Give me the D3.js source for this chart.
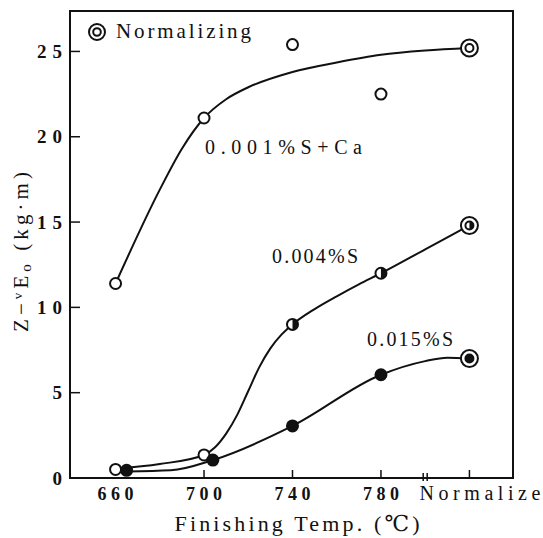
<!DOCTYPE html>
<html>
<head>
<meta charset="utf-8">
<script src="https://cdn.jsdelivr.net/npm/d3@7"></script>
<style>
  body { margin: 0; background: #fff; }
  svg { display: block; }
  text { font-family: "Liberation Serif", "DejaVu Serif", serif; fill: #111; }
</style>
</head>
<body>
<svg id="chart"></svg>
<script>
const width = 543;
const height = 538;

// x categories (820 stands for "Normalize")
const xTicks = [660, 700, 740, 780, 820];
const xTickLabels = ["660", "700", "740", "780", "Normalize"];
const yTicks = [0, 5, 10, 15, 20, 25];

// 0.001%S+Ca (open circles)
const caX = [660, 700, 740, 780, 820];
const caY = [11.4, 21.1, 25.4, 22.5, 25.2];
const caCurveX = [660, 680, 690, 700, 710, 720, 740, 760, 780, 800, 820];
const caCurveY = [11.4, 16.9, 19.3, 21.1, 22.2, 22.9, 23.8, 24.35, 24.8, 25.05, 25.2];

// 0.004%S (half filled circles)
const s004X = [660, 700, 740, 780, 820];
const s004Y = [0.5, 1.35, 9.0, 12.0, 14.8];
const s004Half = [false, false, true, true, true];
const s004CurveX = [660, 680, 700, 705, 710, 715, 720, 725, 730, 735, 740, 750, 760, 770, 780, 800, 820];
const s004CurveY = [0.55, 0.82, 1.35, 1.8, 2.6, 3.7, 5.1, 6.5, 7.6, 8.4, 9.0, 9.9, 10.65, 11.35, 12.0, 13.4, 14.8];

// 0.015%S (filled circles)
const s015X = [665, 704, 740, 780, 820];
const s015Y = [0.45, 1.05, 3.05, 6.05, 7.0];
const s015CurveX = [665, 685, 704, 740, 780, 800, 810, 820];
const s015CurveY = [0.38, 0.45, 1.05, 3.05, 6.05, 6.85, 7.05, 7.0];

const svg = d3.select("#chart")
    .attr("width", width)
    .attr("height", height);

const x = d3.scaleLinear().domain([639.4, 839.7]).range([70, 513]);
const y = d3.scaleLinear().domain([0, 27.37]).range([478, 11]);

const line = d3.line()
    .x(d => x(d[0]))
    .y(d => y(d[1]))
    .curve(d3.curveMonotoneX);

// frame
svg.append("rect")
    .attr("x", x.range()[0]).attr("y", y.range()[1])
    .attr("width", x.range()[1] - x.range()[0])
    .attr("height", y.range()[0] - y.range()[1])
    .attr("fill", "none").attr("stroke", "#111").attr("stroke-width", 2);

// y ticks (inward) and labels
svg.append("g").selectAll("line").data(yTicks.filter(d => d > 0)).enter().append("line")
    .attr("x1", x.range()[0]).attr("x2", x.range()[0] + 10)
    .attr("y1", d => y(d)).attr("y2", d => y(d))
    .attr("stroke", "#111").attr("stroke-width", 1.5);

svg.append("g").selectAll("text").data(yTicks).enter().append("text")
    .attr("x", 62).attr("y", d => y(d) + 6.5)
    .attr("text-anchor", "end")
    .attr("font-size", 19).attr("font-weight", "bold")
    .attr("textLength", d => String(d).length > 1 ? 25 : null)
    .attr("lengthAdjust", "spacing")
    .text(d => d);

// x ticks (inward) and labels
svg.append("g").selectAll("line").data(xTicks.slice(1)).enter().append("line")
    .attr("x1", d => x(d)).attr("x2", d => x(d))
    .attr("y1", y(0)).attr("y2", y(0) - 8)
    .attr("stroke", "#111").attr("stroke-width", 1.5);

// axis break near Normalize
[-2, 2].forEach(o => {
  svg.append("line")
    .attr("x1", x(800) + o).attr("x2", x(800) + o)
    .attr("y1", y(0) - 5).attr("y2", y(0) + 3)
    .attr("stroke", "#111").attr("stroke-width", 1.5);
});

svg.append("g").selectAll("text").data(xTicks).enter().append("text")
    .attr("x", (d, i) => i === 4 ? x(d) - 50 : x(d))
    .attr("y", 500)
    .attr("text-anchor", (d, i) => i === 4 ? "start" : "middle")
    .attr("font-size", (d, i) => i === 4 ? 20 : 18)
    .attr("font-weight", (d, i) => i === 4 ? "normal" : "bold")
    .attr("textLength", (d, i) => i === 4 ? 121 : 36)
    .attr("lengthAdjust", "spacing")
    .text((d, i) => xTickLabels[i]);

// axis titles
svg.append("text")
    .attr("x", 297).attr("y", 531)
    .attr("text-anchor", "middle")
    .attr("font-size", 22)
    .attr("textLength", 245).attr("lengthAdjust", "spacing")
    .text("Finishing Temp. (℃)");

const yt = svg.append("text")
    .attr("transform", "translate(28,252) rotate(-90)")
    .attr("text-anchor", "middle")
    .attr("font-size", 21)
    .attr("textLength", 160).attr("lengthAdjust", "spacing");
yt.append("tspan").text("Z−");
yt.append("tspan").attr("font-size", 13).attr("dy", -6).text("v");
yt.append("tspan").attr("dy", 6).text("E");
yt.append("tspan").attr("font-size", 15).attr("dy", 3).text("o");
yt.append("tspan").attr("dy", -3).text(" (kg·m)");

// curves
const curves = [
  d3.zip(caCurveX, caCurveY),
  d3.zip(s004CurveX, s004CurveY),
  d3.zip(s015CurveX, s015CurveY)
];
svg.append("g").selectAll("path").data(curves).enter().append("path")
    .attr("d", line)
    .attr("fill", "none").attr("stroke", "#111").attr("stroke-width", 2);

// markers
const r = 5.5;
function halfPath(cx, cy, rr) {
  return `M${cx},${cy - rr} A${rr},${rr} 0 0 1 ${cx},${cy + rr} Z`;
}
function drawMarker(g, cx, cy, kind, rr) {
  if (kind === "filled") {
    g.append("circle").attr("cx", cx).attr("cy", cy).attr("r", rr)
      .attr("fill", "#111").attr("stroke", "#111").attr("stroke-width", 2);
  } else {
    g.append("circle").attr("cx", cx).attr("cy", cy).attr("r", rr)
      .attr("fill", "#fff").attr("stroke", "#111").attr("stroke-width", 2);
    if (kind === "half") g.append("path").attr("d", halfPath(cx, cy, rr)).attr("fill", "#111");
  }
}
function drawPoint(g, xv, yv, kind) {
  const cx = x(xv), cy = y(yv);
  if (xv === 820) {
    g.append("circle").attr("cx", cx).attr("cy", cy).attr("r", 8.5)
      .attr("fill", "#fff").attr("stroke", "#111").attr("stroke-width", 2);
    drawMarker(g, cx, cy, kind, 4);
  } else {
    drawMarker(g, cx, cy, kind, r);
  }
}

const pts = svg.append("g");
caX.forEach((v, i) => drawPoint(pts, v, caY[i], "open"));
s004X.forEach((v, i) => drawPoint(pts, v, s004Y[i], s004Half[i] ? "half" : "open"));
s015X.forEach((v, i) => drawPoint(pts, v, s015Y[i], "filled"));

// curve labels
const labels = svg.append("g").attr("font-size", 20);
labels.append("text").attr("x", 205).attr("y", 154)
    .attr("textLength", 157).attr("lengthAdjust", "spacing").text("0.001%S+Ca");
labels.append("text").attr("x", 272).attr("y", 263)
    .attr("textLength", 86).attr("lengthAdjust", "spacing").text("0.004%S");
labels.append("text").attr("x", 367).attr("y", 346)
    .attr("textLength", 86).attr("lengthAdjust", "spacing").text("0.015%S");

// legend
const lg = svg.append("g");
lg.append("circle").attr("cx", 97).attr("cy", 32).attr("r", 8)
    .attr("fill", "#fff").attr("stroke", "#111").attr("stroke-width", 2);
lg.append("circle").attr("cx", 97).attr("cy", 32).attr("r", 3.8)
    .attr("fill", "#fff").attr("stroke", "#111").attr("stroke-width", 2);
lg.append("text").attr("x", 116).attr("y", 38)
    .attr("font-size", 21)
    .attr("textLength", 135).attr("lengthAdjust", "spacing")
    .text("Normalizing");
</script>
</body>
</html>
